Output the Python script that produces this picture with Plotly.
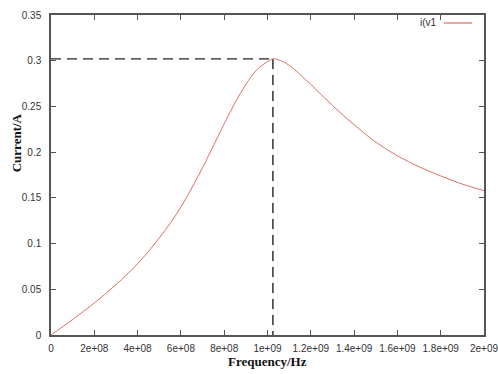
import plotly.graph_objects as go

# Data
freq_hz = [0, 1e8, 2e8, 3e8, 4e8, 5e8, 6e8, 7e8, 7.5e8, 8e8, 8.5e8, 9e8, 9.5e8, 1.0e9, 1.025e9,
           1.05e9, 1.1e9, 1.2e9, 1.3e9, 1.4e9, 1.5e9, 1.6e9, 1.7e9, 1.8e9, 1.9e9, 2.0e9]
current_a = [0, 0.017, 0.035, 0.055, 0.078, 0.106, 0.140, 0.183, 0.207, 0.231, 0.254, 0.274, 0.290, 0.299, 0.302,
             0.301, 0.295, 0.274, 0.251, 0.230, 0.211, 0.196, 0.184, 0.174, 0.165, 0.158]
peak_freq = 1.025e9
peak_current = 0.302

x_ticks = [0, 2e8, 4e8, 6e8, 8e8, 1e9, 1.2e9, 1.4e9, 1.6e9, 1.8e9, 2e9]
x_tick_labels = ["0", "2e+08", "4e+08", "6e+08", "8e+08", "1e+09", "1.2e+09", "1.4e+09", "1.6e+09", "1.8e+09", "2e+09"]
y_ticks = [0, 0.05, 0.1, 0.15, 0.2, 0.25, 0.3, 0.35]
y_tick_labels = ["0", "0.05", "0.1", "0.15", "0.2", "0.25", "0.3", "0.35"]

curve_color = "rgb(222,110,105)"
dash_color = "#222222"

fig = go.Figure()
fig.add_trace(go.Scatter(x=[0, peak_freq], y=[peak_current, peak_current], mode="lines",
                         line=dict(color=dash_color, width=1.4, dash="10px,6px"), showlegend=False))
fig.add_trace(go.Scatter(x=[peak_freq, peak_freq], y=[peak_current, 0], mode="lines",
                         line=dict(color=dash_color, width=1.4, dash="10px,6px"), showlegend=False))
fig.add_trace(go.Scatter(x=freq_hz, y=current_a, mode="lines", name="i(v1",
                         line=dict(color=curve_color, width=1, shape="spline", smoothing=1.0),
                         showlegend=False))

axis_common = dict(showgrid=False, zeroline=False, showline=True, linecolor="#555555", linewidth=1.5,
                   mirror="ticks", ticks="inside", ticklen=5, tickcolor="#555555", tickwidth=1,
                   ticklabeloverflow="allow", automargin=False,
                   tickfont=dict(family="Liberation Sans, Arial, sans-serif", size=10, color="#333333"))

fig.update_layout(
    width=498, height=374,
    margin=dict(l=51, r=14, t=14.5, b=39),
    paper_bgcolor="white", plot_bgcolor="white",
    xaxis=dict(range=[0, 2e9], tickvals=x_ticks, ticktext=x_tick_labels, ticklabelstandoff=3, **axis_common),
    yaxis=dict(range=[0, 0.35], tickvals=y_ticks, ticktext=y_tick_labels, ticklabelstandoff=6, **axis_common),
    showlegend=False,
    annotations=[
        dict(text="<b>Frequency/Hz</b>", xref="paper", yref="paper", x=0.5, y=-0.0835, yanchor="middle",
             showarrow=False, font=dict(family="Liberation Serif, Times New Roman, serif", size=13, color="#111111")),
        dict(text="<b>Current/A</b>", xref="paper", yref="paper", x=-0.081, y=0.602, xanchor="center",
             yanchor="middle", textangle=-90, showarrow=False,
             font=dict(family="Liberation Serif, Times New Roman, serif", size=13, color="#111111")),
        dict(text="i(v1", xref="paper", yref="paper", x=(439 - 51) / 433, y=(335 - 22) / 320.5,
             xanchor="right", yanchor="middle", showarrow=False,
             font=dict(family="Liberation Sans, Arial, sans-serif", size=10, color="#333333")),
    ],
    shapes=[
        dict(type="line", xref="paper", yref="paper", x0=(444 - 51) / 433, x1=(472 - 51) / 433,
             y0=(335 - 22.5) / 320.5, y1=(335 - 22.5) / 320.5, line=dict(color=curve_color, width=1.2)),
    ],
)

fig.write_html("out.html")
